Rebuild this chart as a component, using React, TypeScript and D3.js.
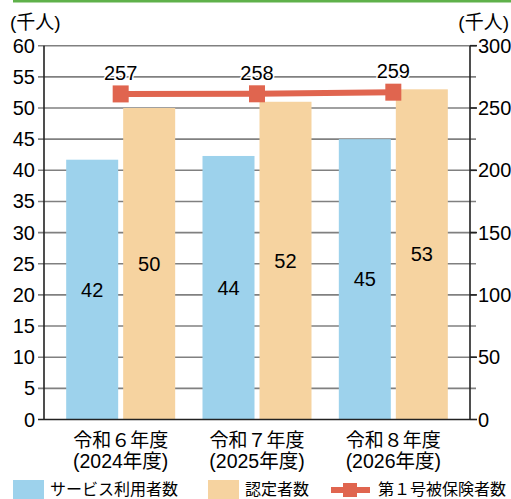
import React from "react";
import * as d3 from "d3";

const categoriesLine1 = ["令和６年度", "令和７年度", "令和８年度"];
const categoriesLine2 = ["(2024年度)", "(2025年度)", "(2026年度)"];
const serviceUsers = [41.7, 42.3, 45.0];
const serviceUserLabels = ["42", "44", "45"];
const certified = [50.0, 51.0, 53.0];
const certifiedLabels = ["50", "52", "53"];
const insured = [261.3, 261.4, 262.7];
const insuredLabels = ["257", "258", "259"];
const leftTicks = [0, 5, 10, 15, 20, 25, 30, 35, 40, 45, 50, 55, 60];
const rightTicks = [0, 50, 100, 150, 200, 250, 300];
const seriesNames = ["サービス利用者数", "認定者数", "第１号被保険者数"];

const W = 511;
const H = 499;
const BLUE = "#9dd2ec";
const ORANGE = "#f6d3a0";
const RED = "#e0654f";
const FONT = "'Liberation Sans', Arial, 'Noto Sans CJK JP', sans-serif";
const JFONT = "'Noto Sans CJK JP', sans-serif";

export default function App() {
  const x0 = 44;
  const x1 = 470;
  const yTop = 45.7;
  const yBot = 419.5;
  const x = d3.scalePoint<string>().domain(categoriesLine1).range([x0, x1]).padding(0.5625);
  const inner = d3.scaleBand<string>().domain(["s", "c"]).range([-54.5, 54.5]).paddingInner(0.0877);
  const yL = d3.scaleLinear().domain([0, 60]).range([yBot, yTop]);
  const yR = d3.scaleLinear().domain([0, 300]).range([yBot, yTop]);
  const line = d3
    .line<number>()
    .x((_, i) => x(categoriesLine1[i]) as number)
    .y((d) => yR(d));

  return (
    <svg
      width={W}
      height={H}
      style={{ position: "absolute", left: 0, top: 0, display: "block", background: "#fff" }}
    >
      <rect x={13} y={0} width={W - 13} height={2.5} fill="#5fb14a" />
      {/* unit labels */}
      <text x={10} y={22} fontSize={19} fontFamily={FONT} dominantBaseline="central">(千人)</text>
      <text x={509} y={22} fontSize={19} fontFamily={FONT} textAnchor="end" dominantBaseline="central">(千人)</text>

      {/* gridlines */}
      {leftTicks.map((t) =>
        t === 0 ? null : (
          <line key={"g" + t} x1={38} x2={476} y1={yL(t)} y2={yL(t)} stroke="#808080" strokeWidth={1.6} />
        )
      )}

      {/* bars */}
      {categoriesLine1.map((c, i) => {
        const cx = x(c) as number;
        return (
          <g key={c}>
            <rect x={cx + (inner("s") as number)} width={inner.bandwidth()} y={yL(serviceUsers[i])} height={yBot - yL(serviceUsers[i])} fill={BLUE} />
            <rect x={cx + (inner("c") as number)} width={inner.bandwidth()} y={yL(certified[i])} height={yBot - yL(certified[i])} fill={ORANGE} />
            <text x={cx + (inner("s") as number) + inner.bandwidth() / 2} y={(yL(serviceUsers[i]) + yBot) / 2} fontSize={20} fontFamily={FONT} textAnchor="middle" dominantBaseline="central">{serviceUserLabels[i]}</text>
            <text x={cx + (inner("c") as number) + inner.bandwidth() / 2} y={(yL(certified[i]) + yBot) / 2} fontSize={20} fontFamily={FONT} textAnchor="middle" dominantBaseline="central">{certifiedLabels[i]}</text>
            <text x={cx} y={438} fontSize={19} fontFamily={JFONT} textAnchor="middle" dominantBaseline="central">{categoriesLine1[i]}</text>
            <text x={cx} y={461} fontSize={19.5} fontFamily={FONT} textAnchor="middle" dominantBaseline="central">{categoriesLine2[i]}</text>
          </g>
        );
      })}

      {/* axes */}
      <line x1={x0} x2={x0} y1={yTop} y2={yBot} stroke="#222" strokeWidth={1.6} />
      <line x1={x1} x2={x1} y1={yTop} y2={yBot} stroke="#222" strokeWidth={1.6} />
      <line x1={38} x2={x1} y1={yBot} y2={yBot} stroke="#222" strokeWidth={1.6} />
      {leftTicks.map((t) => (
        <text key={"l" + t} x={35} y={yL(t)} fontSize={20} fontFamily={FONT} textAnchor="end" dominantBaseline="central">{t}</text>
      ))}
      {rightTicks.map((t) => (
        <g key={"r" + t}>
          <line x1={x1} x2={477} y1={yR(t)} y2={yR(t)} stroke="#222" strokeWidth={1.6} />
          <text x={478} y={yR(t)} fontSize={20} fontFamily={FONT} textAnchor="start" dominantBaseline="central">{t}</text>
        </g>
      ))}

      {/* line series */}
      <path d={line(insured) || ""} fill="none" stroke={RED} strokeWidth={6} />
      {insured.map((v, i) => {
        const cx = x(categoriesLine1[i]) as number;
        return (
          <g key={"m" + i}>
            <rect x={cx - 8} y={yR(v) - 8.5} width={16} height={17} fill={RED} />
            <text x={cx} y={yR(v) - 21} fontSize={20} fontFamily={FONT} textAnchor="middle" dominantBaseline="central" stroke="#fff" strokeWidth={3} paintOrder="stroke">{insuredLabels[i]}</text>
          </g>
        );
      })}

      {/* legend */}
      <rect x={13} y={480} width={31} height={19} fill={BLUE} />
      <text x={50} y={487.5} fontSize={16} fontFamily={JFONT} dominantBaseline="central">{seriesNames[0]}</text>
      <rect x={208} y={480} width={31} height={19} fill={ORANGE} />
      <text x={245} y={487.5} fontSize={16} fontFamily={JFONT} dominantBaseline="central">{seriesNames[1]}</text>
      <line x1={331} x2={370} y1={490} y2={490} stroke={RED} strokeWidth={6} />
      <rect x={343} y={483} width={14} height={14} fill={RED} />
      <text x={378} y={487.5} fontSize={16} fontFamily={JFONT} dominantBaseline="central">{seriesNames[2]}</text>
    </svg>
  );
}
